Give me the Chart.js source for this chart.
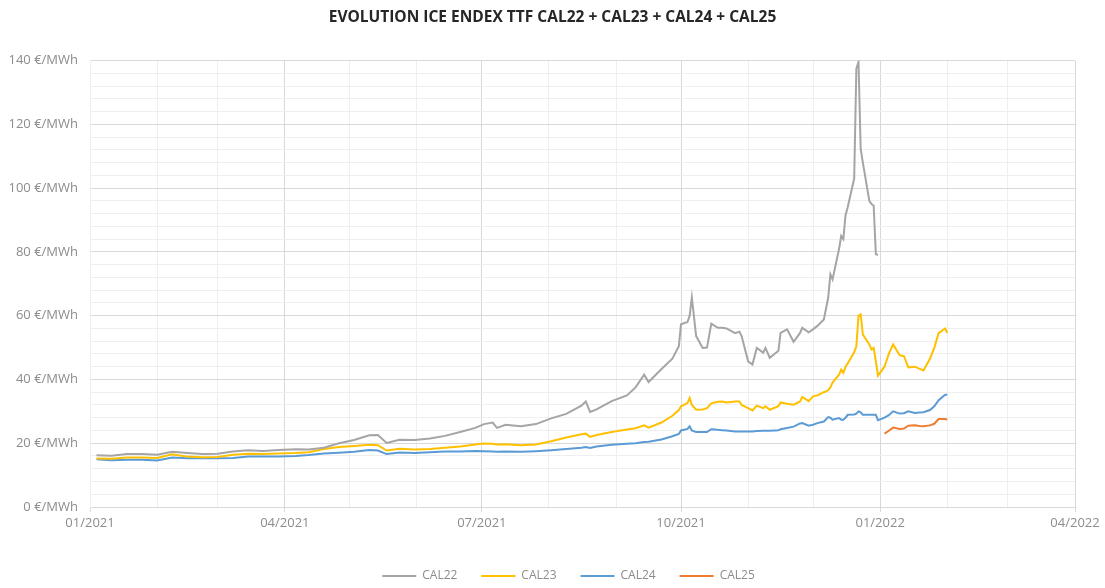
<!DOCTYPE html>
<html>
<head>
<meta charset="utf-8">
<script src="https://cdn.jsdelivr.net/npm/chart.js@4"></script>
<style>
  body { margin: 0; background: #fff; }
  #wrap { width: 1105px; height: 588px; }
</style>
</head>
<body>
<div id="wrap"><canvas id="chart"></canvas></div>
<script>
// trading dates
var dates = [
  '2021-01-04', '2021-01-11', '2021-01-18', '2021-01-25', '2021-02-01', '2021-02-08', '2021-02-15', '2021-02-22',
  '2021-03-01', '2021-03-08', '2021-03-15', '2021-03-22', '2021-03-29', '2021-04-06', '2021-04-12', '2021-04-19',
  '2021-04-26', '2021-05-03', '2021-05-10', '2021-05-14', '2021-05-18', '2021-05-24', '2021-05-31', '2021-06-07',
  '2021-06-14', '2021-06-21', '2021-06-28', '2021-07-02', '2021-07-06', '2021-07-08', '2021-07-12', '2021-07-19',
  '2021-07-26', '2021-08-02', '2021-08-09', '2021-08-16', '2021-08-18', '2021-08-20', '2021-08-23', '2021-08-30',
  '2021-09-06', '2021-09-10', '2021-09-14', '2021-09-16', '2021-09-22', '2021-09-27', '2021-09-30', '2021-10-01',
  '2021-10-04', '2021-10-05', '2021-10-06', '2021-10-08', '2021-10-11', '2021-10-13', '2021-10-15', '2021-10-18',
  '2021-10-20', '2021-10-22', '2021-10-26', '2021-10-28', '2021-10-29', '2021-11-01', '2021-11-03', '2021-11-05',
  '2021-11-08', '2021-11-09', '2021-11-11', '2021-11-15', '2021-11-16', '2021-11-19', '2021-11-22', '2021-11-25',
  '2021-11-26', '2021-11-29', '2021-12-01', '2021-12-03', '2021-12-06', '2021-12-08', '2021-12-09', '2021-12-10',
  '2021-12-13', '2021-12-14', '2021-12-15', '2021-12-16', '2021-12-17', '2021-12-20', '2021-12-21', '2021-12-22',
  '2021-12-23', '2021-12-24', '2021-12-27', '2021-12-28', '2021-12-29', '2021-12-30', '2021-12-31', '2022-01-03',
  '2022-01-05', '2022-01-07', '2022-01-10', '2022-01-12', '2022-01-14', '2022-01-17', '2022-01-19', '2022-01-21',
  '2022-01-24', '2022-01-26', '2022-01-28', '2022-01-31', '2022-02-01'
];

var cal22 = [
  16.2, 16.1, 16.6, 16.6, 16.4, 17.3, 16.9, 16.6, 16.7, 17.4, 17.8, 17.6, 17.9, 18.1, 18.0, 18.6,
  20.0, 21.0, 22.5, 22.6, 20.1, 21.1, 21.0, 21.5, 22.3, 23.5, 24.8, 26.0, 26.5, 24.8, 25.8, 25.3,
  26.0, 27.8, 29.2, 31.8, 33.1, 29.8, 30.6, 33.2, 35.0, 37.5, 41.5, 39.2, 43.3, 46.5, 50.4, 57.3,
  58.0, 60.0, 65.7, 53.6, 49.9, 50.0, 57.5, 56.2, 56.2, 56.0, 54.5, 55.0, 53.6, 45.7, 44.7, 49.9,
  48.4, 49.9, 46.8, 49.0, 54.6, 55.7, 51.8, 54.6, 56.2, 54.8, 55.7, 56.8, 58.8, 65.7, 73.0, 71.4,
  80.9, 85.0, 84.0, 91.5, 94.0, 103.0, 137.5, 139.6, 112.3, 108.0, 96.0, 95.0, 94.5, 79.3, 79.0, null,
  null, null, null, null, null, null, null, null, null, null, null, null, null
];

var cal23 = [
  15.2, 15.1, 15.5, 15.5, 15.4, 16.5, 15.8, 15.6, 15.7, 16.4, 16.7, 16.6, 16.8, 16.9, 17.2, 18.2,
  18.8, 19.1, 19.5, 19.4, 17.7, 18.3, 18.0, 18.2, 18.6, 19.0, 19.6, 19.9, 19.8, 19.6, 19.7, 19.4,
  19.6, 20.6, 21.8, 22.8, 23.0, 22.0, 22.6, 23.5, 24.3, 24.7, 25.6, 24.9, 26.5, 28.6, 30.4, 31.6,
  32.6, 34.2, 32.0, 30.5, 30.6, 31.0, 32.5, 33.0, 33.1, 32.8, 33.1, 33.1, 32.0, 31.0, 30.3, 31.8,
  31.0, 31.6, 30.5, 31.6, 32.8, 32.4, 32.1, 33.1, 34.5, 33.2, 34.7, 35.0, 36.0, 36.6, 37.5, 39.0,
  41.5, 43.1, 42.1, 44.0, 45.0, 48.5, 50.4, 60.0, 60.4, 54.1, 51.0, 49.4, 49.9, 45.7, 41.2, 44.0,
  48.0, 51.0, 47.6, 47.3, 43.8, 44.0, 43.4, 42.8, 46.5, 49.9, 54.5, 56.0, 54.6
];

var cal24 = [
  15.0, 14.7, 14.8, 14.8, 14.6, 15.5, 15.3, 15.3, 15.3, 15.4, 15.8, 15.8, 15.8, 16.0, 16.3, 16.8,
  17.0, 17.3, 17.9, 17.7, 16.6, 17.1, 16.9, 17.2, 17.4, 17.4, 17.6, 17.5, 17.4, 17.3, 17.4, 17.3,
  17.5, 17.8, 18.2, 18.6, 18.8, 18.5, 19.0, 19.5, 19.8, 20.0, 20.4, 20.5, 21.2, 22.2, 22.9, 24.0,
  24.5, 25.3, 24.0, 23.5, 23.5, 23.5, 24.4, 24.2, 24.1, 24.0, 23.7, 23.7, 23.7, 23.7, 23.7, 23.8,
  23.9, 23.9, 23.9, 24.1, 24.4, 24.8, 25.2, 26.2, 26.3, 25.5, 25.8, 26.3, 26.8, 28.2, 28.0, 27.4,
  27.9, 27.4, 27.4, 28.0, 28.9, 29.0, 29.3, 30.0, 29.7, 28.9, 28.9, 28.9, 28.9, 28.9, 27.2, 28.0,
  28.8, 30.0, 29.3, 29.4, 30.0, 29.5, 29.6, 29.7, 30.4, 31.6, 33.5, 35.2, 35.2
];

var cal25 = [
  null, null, null, null, null, null, null, null, null, null, null, null, null, null, null, null,
  null, null, null, null, null, null, null, null, null, null, null, null, null, null, null, null,
  null, null, null, null, null, null, null, null, null, null, null, null, null, null, null, null,
  null, null, null, null, null, null, null, null, null, null, null, null, null, null, null, null,
  null, null, null, null, null, null, null, null, null, null, null, null, null, null, null, null,
  null, null, null, null, null, null, null, null, null, null, null, null, null, null, null, 23.0,
  23.9, 24.9, 24.5, 24.6, 25.5, 25.6, 25.4, 25.3, 25.6, 26.1, 27.6, 27.6, 27.4
];

var seriesNames = ['CAL22', 'CAL23', 'CAL24', 'CAL25'];
var seriesColors = ['#a5a5a5', '#ffc000', '#5b9bd5', '#ed7d31'];
var xTickLabels = ['01/2021', '04/2021', '07/2021', '10/2021', '01/2022', '04/2022'];

var t0 = Date.UTC(2021, 0, 1);
function dayOf(s) {
    return (Date.parse(s + 'T00:00:00Z') - t0) / 86400000;
}
function points(vals) {
    return dates.map(function (d, i) { return { x: dayOf(d), y: vals[i] }; });
}

// one tick per month, labels only every quarter
var monthTicks = [];
for (var m = 0; m <= 15; m++) {
    monthTicks.push({ value: (Date.UTC(2021, m, 1) - t0) / 86400000 });
}
// minor lines every 4, labels every 20
var yTicks = [];
for (var v = 0; v <= 140; v += 4) yTicks.push({ value: v });

var allSeries = [cal22, cal23, cal24, cal25];
var datasets = allSeries.map(function (vals, i) {
    return {
        label: seriesNames[i],
        data: points(vals),
        borderColor: seriesColors[i],
        backgroundColor: seriesColors[i],
        borderWidth: 2,
        pointRadius: 0,
        tension: 0,
        spanGaps: false
    };
});

// title and legend are centred on the whole picture, not on the plot
var shiftBoxes = {
    id: 'shiftBoxes',
    afterLayout: function (chart) {
        chart.titleBlock.left += 15;
        chart.titleBlock.right += 15;
        chart.legend.left += 31;
        chart.legend.right += 31;
    }
};

var tickFont = { family: 'Open Sans', size: 13 };

new Chart(document.getElementById('chart').getContext('2d'), {
    type: 'line',
    data: { datasets: datasets },
    plugins: [shiftBoxes],
    options: {
        responsive: true,
        maintainAspectRatio: false,
        animation: false,
        layout: { padding: { left: 0, right: 30, top: 0, bottom: 0 } },
        plugins: {
            title: {
                display: true,
                text: 'EVOLUTION ICE ENDEX TTF CAL22 + CAL23 + CAL24 + CAL25',
                color: '#262626',
                font: { family: 'Open Sans', size: 15.5, weight: 'bold' },
                padding: { top: 8, bottom: 34 }
            },
            legend: {
                position: 'bottom',
                maxHeight: 42,
                labels: {
                    boxWidth: 34,
                    boxHeight: 0,
                    padding: 24,
                    color: '#8c8c8c',
                    font: { family: 'Open Sans', size: 12 }
                }
            },
            tooltip: { enabled: false }
        },
        scales: {
            x: {
                type: 'linear',
                min: monthTicks[0].value,
                max: monthTicks[15].value,
                afterBuildTicks: function (axis) { axis.ticks = monthTicks.slice(); },
                afterFit: function (axis) { axis.height = 39; },
                border: { color: '#d9d9d9' },
                grid: {
                    color: function (ctx) { return ctx.index % 3 === 0 ? '#d9d9d9' : '#efefef'; },
                    tickColor: function (ctx) { return ctx.index % 3 === 0 ? '#d9d9d9' : 'rgba(0,0,0,0)'; },
                    tickLength: 5
                },
                ticks: {
                    autoSkip: false,
                    maxRotation: 0,
                    padding: 3,
                    color: '#8c8c8c',
                    font: tickFont,
                    callback: function (v, i) { return i % 3 === 0 ? xTickLabels[i / 3] : ''; }
                }
            },
            y: {
                min: 0,
                max: 140,
                afterBuildTicks: function (axis) { axis.ticks = yTicks.slice(); },
                afterFit: function (axis) { axis.width = 90; },
                border: { color: '#efefef' },
                grid: {
                    drawTicks: false,
                    color: function (ctx) { return ctx.tick.value % 20 === 0 ? '#d9d9d9' : '#efefef'; }
                },
                ticks: {
                    autoSkip: false,
                    padding: 12,
                    color: '#8c8c8c',
                    font: tickFont,
                    callback: function (v) { return v % 20 === 0 ? v + ' €/MWh' : ''; }
                }
            }
        }
    }
});
</script>
</body>
</html>
